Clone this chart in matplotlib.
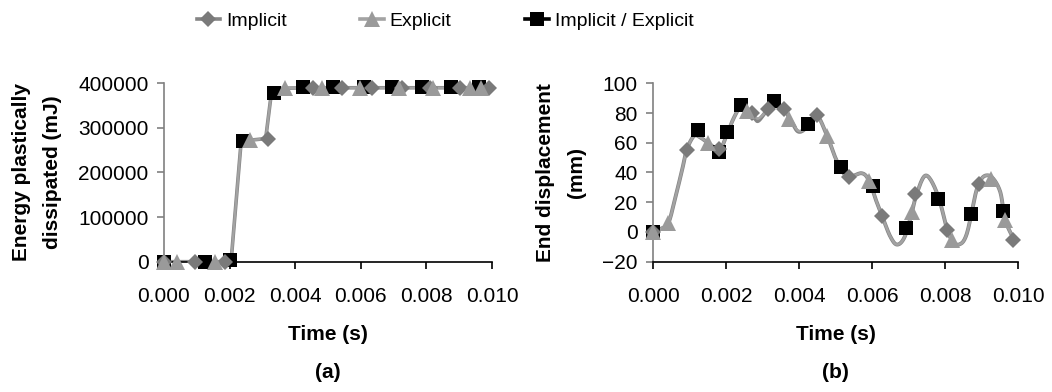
import numpy as np
import matplotlib
matplotlib.use("Agg")
import matplotlib.pyplot as plt
from matplotlib.lines import Line2D
from matplotlib.ticker import FormatStrFormatter

plt.rcParams['font.family'] = ['Liberation Sans', 'DejaVu Sans']

# ---------------- data ----------------
series_names = ["Implicit", "Explicit", "Implicit / Explicit"]

# (a) Energy plastically dissipated (mJ)
energy_line_t = [0.0, 0.0009, 0.0018, 0.00205, 0.00235, 0.0027, 0.0031, 0.00328, 0.0036,
                 0.0045, 0.0054, 0.0063, 0.0072, 0.0081, 0.0090, 0.0099]
energy_line_v = [0, 0, 0, 5000, 268000, 273000, 276000, 382000, 389000,
                 390000, 390000, 390000, 390000, 390000, 390000, 390000]
energy_imp_t = [0.0, 0.00095, 0.00186, 0.00317, 0.00454, 0.00543, 0.00634, 0.00725,
                0.0081, 0.00902, 0.0099]
energy_imp_v = [0, 0, 0, 275000, 390000, 390000, 390000, 390000, 390000, 390000, 390000]
energy_exp_t = [0.0, 0.00039, 0.00156, 0.00263, 0.00369, 0.00483, 0.00597, 0.00716,
                0.00819, 0.00933, 0.00965]
energy_exp_v = [0, 0, 0, 273000, 389000, 390000, 390000, 390000, 390000, 390000, 390000]
energy_ie_t = [0.0, 0.00125, 0.00202, 0.00242, 0.00336, 0.00425, 0.00515, 0.00609,
               0.00695, 0.00788, 0.00876, 0.0096]
energy_ie_v = [0, 0, 3000, 271000, 379000, 391000, 391000, 391000, 391000, 391000,
               391000, 391000]

# (b) End displacement (mm)
disp_line_t = [0.0, 0.0002, 0.00042, 0.0006, 0.0008, 0.00092, 0.00112, 0.0013, 0.0015,
               0.00182, 0.002, 0.0022, 0.0024, 0.0026, 0.0028, 0.0029, 0.00314, 0.0033,
               0.00358, 0.0038, 0.00398, 0.0042, 0.00448, 0.00478, 0.00497, 0.00518,
               0.00537, 0.00572, 0.00592, 0.0061, 0.00628, 0.0065, 0.00669, 0.0069,
               0.0071, 0.00722, 0.00748, 0.0078, 0.00806, 0.0082, 0.00838, 0.0086,
               0.0089, 0.0092, 0.0095, 0.00965, 0.0099]
disp_line_imp = [0.0, 2.0, 6.0, 22.0, 42.0, 55.0, 64.5, 63.5, 60.0,
                 55.5, 64.0, 76.0, 84.0, 82.0, 76.0, 75.0, 82.5, 86.0,
                 82.5, 74.0, 67.5, 70.0, 78.5, 64.0, 51.5, 41.0,
                 37.0, 39.5, 34.5, 22.0, 10.5, -3.0, -8.5, -3.0,
                 14.0, 25.5, 38.0, 25.0, 1.5, -5.5, -8.5, -1.0,
                 31.0, 38.0, 28.0, 8.0, -5.5]
disp_line_exp = [0.0, 2.0, 6.0, 22.0, 42.0, 55.0, 64.5, 63.5, 60.0,
                 55.5, 64.0, 76.0, 84.0, 81.5, 77.5, 76.5, 82.0, 86.0,
                 82.5, 74.5, 68.0, 70.0, 78.0, 64.5, 51.5, 41.0,
                 37.0, 39.5, 34.5, 22.0, 10.5, -3.0, -8.5, -3.0,
                 14.0, 25.5, 38.0, 25.0, 1.5, -5.5, -8.5, -1.0,
                 31.0, 38.0, 28.0, 8.0, -5.5]
disp_imp_t = [0.0, 0.00092, 0.00182, 0.0027, 0.00315, 0.00359, 0.00448, 0.00536,
              0.00628, 0.00717, 0.00806, 0.00892, 0.00987]
disp_imp_v = [0.0, 55.0, 55.5, 80.0, 83.0, 83.0, 78.5, 37.0, 10.5, 25.5, 1.0, 32.5, -5.5]
disp_exp_t = [0.0, 0.00042, 0.00151, 0.00258, 0.00373, 0.00478, 0.00592, 0.0071,
              0.0082, 0.00927, 0.00965]
disp_exp_v = [0.0, 6.0, 60.0, 81.5, 76.0, 64.5, 34.0, 13.5, -5.5, 35.5, 8.0]
disp_ie_t = [0.0, 0.00122, 0.00182, 0.00203, 0.00242, 0.00332, 0.00424, 0.00515,
             0.00603, 0.00692, 0.00781, 0.00871, 0.0096]
disp_ie_v = [0.0, 68.5, 54.0, 67.0, 85.5, 88.0, 72.5, 44.0, 31.0, 2.5, 22.5, 12.0, 14.0]

x_ticks = [0.000, 0.002, 0.004, 0.006, 0.008, 0.010]
energy_ticks = [0, 100000, 200000, 300000, 400000]
disp_ticks = [-20, 0, 20, 40, 60, 80, 100]

# ---------------- styling ----------------
C_IMP_LINE = '#858585'
C_EXP_LINE = '#a3a3a3'
C_IMP_MK = '#7a7a7a'
C_EXP_MK = '#9a9a9a'
C_IE = '#000000'
FS_TICK = 15
FS_LAB = 15
FS_LEG = 14


def smooth(t, v, n=14):
    """Excel-like smoothed line (Catmull-Rom) through the given points."""
    P = np.column_stack([np.asarray(t, float), np.asarray(v, float)])
    P = np.vstack([P[0], P, P[-1]])
    out = []
    s = np.linspace(0, 1, n, endpoint=False)[:, None]
    for i in range(1, len(P) - 2):
        p0, p1, p2, p3 = P[i - 1], P[i], P[i + 1], P[i + 2]
        c = 0.5 * ((2 * p1) + (-p0 + p2) * s + (2 * p0 - 5 * p1 + 4 * p2 - p3) * s ** 2
                   + (-p0 + 3 * p1 - 3 * p2 + p3) * s ** 3)
        out.append(c)
    out.append(P[-2][None, :])
    c = np.vstack(out)
    return c[:, 0], c[:, 1]


fig = plt.figure(figsize=(10.52, 3.92), dpi=100)
ax1 = fig.add_axes([164 / 1052, 1 - 261.7 / 392, 328 / 1052, 178.4 / 392])
ax2 = fig.add_axes([653 / 1052, 1 - 261.7 / 392, 365 / 1052, 178.4 / 392])

mk = dict(linestyle='none', markeredgewidth=0)

# (a)
ax1.plot(energy_line_t, energy_line_v, color=C_IMP_LINE, lw=2.6, zorder=2, solid_joinstyle='round')
ax1.plot(energy_line_t, energy_line_v, color=C_EXP_LINE, lw=1.7, zorder=2, solid_joinstyle='round')
ax1.plot(energy_ie_t, energy_ie_v, marker='s', markersize=10.5, color=C_IE, zorder=3, clip_on=False, **mk)
ax1.plot(energy_imp_t, energy_imp_v, marker='D', markersize=8.5, color=C_IMP_MK, zorder=4, clip_on=False, **mk)
ax1.plot(energy_exp_t, energy_exp_v, marker='^', markersize=11.5, color=C_EXP_MK, zorder=5, clip_on=False, **mk)

# (b)
xs, ys = smooth(disp_line_t, disp_line_imp)
ax2.plot(xs, ys, color=C_IMP_LINE, lw=2.8, zorder=2, solid_joinstyle='round')
xs, ys = smooth(disp_line_t, disp_line_exp)
ax2.plot(xs, ys, color=C_EXP_LINE, lw=1.8, zorder=2, solid_joinstyle='round')
ax2.plot(disp_ie_t, disp_ie_v, marker='s', markersize=10.5, color=C_IE, zorder=3, clip_on=False, **mk)
ax2.plot(disp_imp_t, disp_imp_v, marker='D', markersize=8.5, color=C_IMP_MK, zorder=4, clip_on=False, **mk)
ax2.plot(disp_exp_t, disp_exp_v, marker='^', markersize=11.5, color=C_EXP_MK, zorder=5, clip_on=False, **mk)

for ax in (ax1, ax2):
    ax.set_xlim(0, 0.010)
    ax.set_xticks(x_ticks)
    ax.xaxis.set_major_formatter(FormatStrFormatter('%.3f'))
    for sp in ('top', 'right'):
        ax.spines[sp].set_visible(False)
    ax.spines['left'].set_color('#808080')
    ax.spines['bottom'].set_color('#000000')
    ax.spines['left'].set_linewidth(1.2)
    ax.spines['bottom'].set_linewidth(1.2)
    ax.tick_params(axis='y', direction='out', length=5, width=1.2, color='#808080',
                   labelsize=FS_TICK, pad=6)
    ax.tick_params(axis='x', direction='out', length=5, width=1.2, color='#000000',
                   labelsize=FS_TICK, pad=13)
    ax.set_xlabel('Time (s)', fontsize=FS_LAB, fontweight='bold', labelpad=14)
    ax.set_facecolor('none')

ax1.set_ylim(0, 400000)
ax1.set_yticks(energy_ticks)
ax1.set_yticklabels([str(v) for v in energy_ticks])
ax2.set_ylim(-20, 100)
ax2.set_yticks(disp_ticks)

ax1.set_ylabel('Energy plastically\ndissipated (mJ)', fontsize=FS_LAB, fontweight='bold',
               linespacing=1.75, labelpad=12)
ax2.set_ylabel('End displacement\n(mm)', fontsize=FS_LAB, fontweight='bold',
               linespacing=1.75, labelpad=12)

fig.text(328 / 1052, 1 - 372 / 392, '(a)', ha='center', va='center', fontsize=FS_LAB, fontweight='bold')
fig.text(835 / 1052, 1 - 372 / 392, '(b)', ha='center', va='center', fontsize=FS_LAB, fontweight='bold')

handles = [
    Line2D([], [], color=C_IMP_LINE, lw=2.6, marker='D', markersize=8.5,
           markerfacecolor=C_IMP_MK, markeredgewidth=0),
    Line2D([], [], color=C_EXP_LINE, lw=2.6, marker='^', markersize=11.5,
           markerfacecolor=C_EXP_MK, markeredgewidth=0),
    Line2D([], [], color=C_IE, lw=2.6, marker='s', markersize=10.5,
           markerfacecolor=C_IE, markeredgewidth=0),
]
fig.legend(handles, series_names, loc='center', bbox_to_anchor=(445 / 1052, 1 - 21 / 392),
           ncol=3, frameon=False, fontsize=FS_LEG, handlelength=1.2, handletextpad=0.3,
           columnspacing=3.8, borderaxespad=0)

fig.savefig('out.png', dpi=100)
